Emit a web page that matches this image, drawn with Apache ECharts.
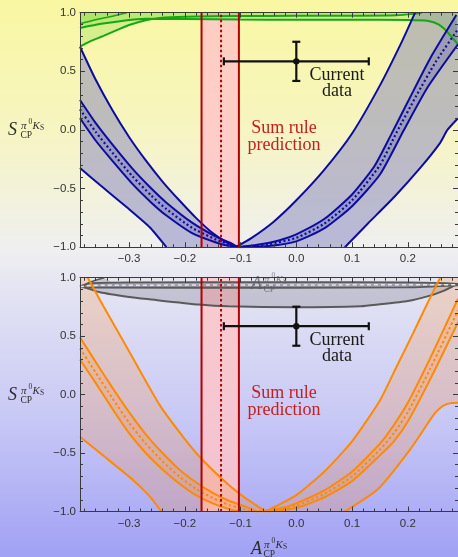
<!DOCTYPE html>
<html>
<head>
<meta charset="utf-8">
<script src="https://cdn.jsdelivr.net/npm/echarts@6/dist/echarts.min.js"></script>
<style>
  html, body { margin: 0; padding: 0; }
  #chart {
    width: 458px; height: 557px;
    background: linear-gradient(to bottom, #f9f7a2 0%, #f7f5bf 22%, #efeff1 45%, #e4e4f3 52%, #c8c8f6 75%, #a1a1f5 100%);
  }
</style>
</head>
<body>
<div id="chart"></div>
<script>
// ---- axes ----
const xMin = -0.388, xMax = 0.29;
const yMin = -1, yMax = 1;
const xMajorTicks = [-0.3, -0.2, -0.1, 0.0, 0.1, 0.2];
const xMinorTicks = [-0.38, -0.36, -0.34, -0.32, -0.28, -0.26, -0.24, -0.22, -0.18, -0.16, -0.14, -0.12,
                     -0.08, -0.06, -0.04, -0.02, 0.02, 0.04, 0.06, 0.08, 0.12, 0.14, 0.16, 0.18, 0.22, 0.24, 0.26, 0.28];

// ---- sum rule prediction for A_CP ----
const sumRuleLow = -0.170, sumRuleHigh = -0.103, sumRuleCentral = -0.135;

// ---- measured point ----
const currentA = 0.0, currentAErr = 0.13;
const currentS = 0.585, currentSErr = 0.167;

// ---- upper panel: blue sum-rule bands ----
const blueOuterUpperLeft = [[-0.388, 0.71], [-0.36, 0.43], [-0.33, 0.17], [-0.30, -0.06], [-0.27, -0.26], [-0.24, -0.44],
  [-0.21, -0.60], [-0.18, -0.75], [-0.15, -0.88], [-0.125, -0.96], [-0.109, -1.0]];
const blueOuterUpperRight = [[-0.109, -1.0], [-0.08, -0.92], [-0.04, -0.78], [0.0, -0.60], [0.05, -0.34], [0.10, -0.03],
  [0.15, 0.38], [0.19, 0.76], [0.213, 1.0]];
const blueOuterLowerLeft = [[-0.388, -0.325], [-0.352, -0.47], [-0.304, -0.66], [-0.263, -0.83], [-0.233, -1.0]];
const blueOuterLowerRight = [[0.087, -1.0], [0.128, -0.80], [0.176, -0.57], [0.223, -0.32], [0.258, -0.11], [0.271, 0.0], [0.29, 0.10]];

const blueInnerUpperLeft = [[-0.388, 0.256], [-0.36, 0.06], [-0.334, -0.10], [-0.294, -0.33], [-0.26, -0.50], [-0.233, -0.62],
  [-0.187, -0.79], [-0.144, -0.91], [-0.12, -0.96], [-0.105, -1.0]];
const blueInnerLowerLeft = [[-0.388, 0.10], [-0.36, -0.09], [-0.334, -0.24], [-0.294, -0.46], [-0.26, -0.62], [-0.233, -0.73],
  [-0.187, -0.88], [-0.144, -0.96], [-0.12, -0.99], [-0.10, -1.0]];
const blueInnerCentreLeft = [[-0.388, 0.175], [-0.36, -0.015], [-0.334, -0.17], [-0.294, -0.395], [-0.26, -0.56], [-0.233, -0.675],
  [-0.187, -0.835], [-0.144, -0.935], [-0.12, -0.975], [-0.103, -1.0]];
const blueInnerUpperRight = [[-0.105, -1.0], [-0.07, -0.98], [-0.03, -0.94], [0.0, -0.89], [0.05, -0.76], [0.10, -0.55],
  [0.14, -0.31], [0.17, -0.04], [0.20, 0.24], [0.24, 0.61], [0.287, 0.98]];
const blueInnerLowerRight = [[-0.10, -1.0], [-0.05, -0.99], [0.0, -0.95], [0.05, -0.84], [0.10, -0.65], [0.15, -0.38],
  [0.193, 0.0], [0.235, 0.36], [0.29, 0.73]];
const blueInnerCentreRight = [[-0.103, -1.0], [-0.05, -0.975], [0.0, -0.92], [0.05, -0.80], [0.10, -0.60], [0.15, -0.30],
  [0.18, -0.02], [0.215, 0.29], [0.25, 0.58], [0.29, 0.86]];

// ---- upper panel: green curves near S = 1 ----
const greenCurveA = [[-0.388, 0.71], [-0.37, 0.755], [-0.347, 0.80], [-0.32, 0.855], [-0.30, 0.895], [-0.27, 0.935],
  [-0.245, 0.955], [-0.20, 0.966], [-0.10, 0.972], [0.0, 0.973], [0.10, 0.974], [0.18, 0.978], [0.21, 0.99], [0.225, 1.0]];
const greenCurveB = [[-0.388, 0.87], [-0.35, 0.905], [-0.31, 0.932], [-0.27, 0.948], [-0.20, 0.946], [-0.10, 0.942], [0.0, 0.94],
  [0.10, 0.94], [0.20, 0.938], [0.237, 0.93], [0.255, 0.90], [0.27, 0.84], [0.29, 0.73]];
const greenCurveC = [[-0.388, 0.905], [-0.36, 0.94], [-0.33, 0.97], [-0.304, 1.0]];

// ---- lower panel: orange sum-rule bands ----
const orangeOuterUpperLeft = [[-0.374, 1.0], [-0.35, 0.79], [-0.30, 0.37], [-0.245, -0.09], [-0.20, -0.38], [-0.168, -0.56],
  [-0.122, -0.77], [-0.09, -0.89], [-0.055, -1.0]];
const orangeOuterUpperRight = [[-0.055, -1.0], [0.0, -0.86], [0.05, -0.66], [0.10, -0.40], [0.15, -0.05], [0.18, 0.24],
  [0.21, 0.53], [0.235, 0.78], [0.258, 1.0]];
const orangeOuterLowerLeft = [[-0.388, -0.36], [-0.352, -0.50], [-0.293, -0.73], [-0.263, -0.87], [-0.242, -1.0]];
const orangeOuterLowerRight = [[0.087, -1.0], [0.146, -0.81], [0.204, -0.47], [0.247, -0.17], [0.262, -0.10], [0.275, -0.075], [0.29, -0.07]];

const orangeInnerUpperLeft = [[-0.388, 0.49], [-0.36, 0.28], [-0.33, 0.06], [-0.30, -0.15], [-0.27, -0.34], [-0.24, -0.50],
  [-0.21, -0.64], [-0.18, -0.75], [-0.15, -0.84], [-0.12, -0.91], [-0.09, -0.96], [-0.07, -1.0]];
const orangeInnerLowerLeft = [[-0.388, 0.30], [-0.36, 0.10], [-0.33, -0.12], [-0.30, -0.33], [-0.27, -0.50], [-0.24, -0.64],
  [-0.21, -0.76], [-0.18, -0.86], [-0.15, -0.93], [-0.12, -0.98], [-0.10, -1.0]];
const orangeInnerCentreLeft = [[-0.388, 0.395], [-0.36, 0.19], [-0.33, -0.03], [-0.30, -0.24], [-0.27, -0.42], [-0.24, -0.57],
  [-0.21, -0.70], [-0.18, -0.805], [-0.15, -0.885], [-0.12, -0.945], [-0.095, -0.98], [-0.08, -1.0]];
const orangeInnerUpperRight = [[-0.07, -1.0], [-0.03, -0.975], [0.0, -0.93], [0.05, -0.82], [0.10, -0.66], [0.15, -0.42],
  [0.175, -0.26], [0.20, -0.07], [0.24, 0.31], [0.29, 0.82]];
const orangeInnerLowerRight = [[-0.05, -1.0], [0.0, -0.97], [0.05, -0.88], [0.10, -0.74], [0.15, -0.52], [0.175, -0.40],
  [0.20, -0.23], [0.24, 0.13], [0.29, 0.62]];
const orangeInnerCentreRight = [[-0.06, -1.0], [0.0, -0.95], [0.05, -0.85], [0.10, -0.70], [0.15, -0.47], [0.175, -0.33],
  [0.20, -0.15], [0.24, 0.22], [0.29, 0.72]];

// ---- lower panel: grey curves near S = 1 ----
const greyLower = [[-0.388, 0.93], [-0.352, 0.875], [-0.30, 0.835], [-0.263, 0.815], [-0.174, 0.77], [-0.122, 0.755],
  [0.0, 0.747], [0.116, 0.755], [0.147, 0.77], [0.20, 0.80], [0.235, 0.84], [0.265, 0.89], [0.29, 0.95]];
const greyUpper = [[-0.388, 0.925], [-0.37, 0.952], [-0.30, 0.96], [0.0, 0.962], [0.20, 0.96], [0.25, 0.956], [0.29, 0.948]];
const greyMid = [[-0.388, 0.92], [-0.37, 0.915], [0.0, 0.914], [0.20, 0.917], [0.29, 0.935]];
const greyDashed = [[-0.388, 0.922], [-0.37, 0.934], [0.0, 0.938], [0.29, 0.94]];
const greyWedge = [[-0.388, 0.925], [-0.37, 0.962], [-0.345, 1.0]];

// ---------------------------------------------------------------
const AXIS_COLOR = '#3a3a3a';
const SANS = '"Liberation Sans", Arial, sans-serif';
const SERIF = '"Liberation Serif", "DejaVu Serif", serif';
const grids = [
  { left: 80, top: 12.7, width: 380, height: 234.5 },
  { left: 80, top: 277.7, width: 380, height: 233.8 }
];

function fmt(v) {
  const s = Math.abs(v).toFixed(1);
  return (v < -1e-9 ? '\u2212' : '') + s;
}

function xAxesFor(g) {
  const common = { type: 'value', gridIndex: g, min: xMin, max: xMax, splitLine: { show: false }, z: 10 };
  const line = { show: true, onZero: false, lineStyle: { color: AXIS_COLOR, width: 1 } };
  const noLine = { show: false, onZero: false };
  const tick = (vals, len) => ({ show: true, inside: true, length: len, customValues: vals, lineStyle: { color: AXIS_COLOR, width: 1 } });
  return [
    Object.assign({}, common, { position: 'bottom', axisLine: line, axisTick: tick(xMajorTicks, 5),
      axisLabel: { show: true, customValues: xMajorTicks, formatter: fmt, margin: 6, color: '#333', fontSize: 11.5, fontFamily: SANS } }),
    Object.assign({}, common, { position: 'bottom', axisLine: noLine, axisTick: tick(xMinorTicks, 3), axisLabel: { show: false } }),
    Object.assign({}, common, { position: 'top', axisLine: line, axisTick: tick(xMajorTicks, 5), axisLabel: { show: false } }),
    Object.assign({}, common, { position: 'top', axisLine: noLine, axisTick: tick(xMinorTicks, 3), axisLabel: { show: false } })
  ];
}

function yAxesFor(g) {
  const common = {
    type: 'value', gridIndex: g, min: yMin, max: yMax, interval: 0.5, z: 10,
    axisLine: { show: true, onZero: false, lineStyle: { color: AXIS_COLOR, width: 1 } },
    axisTick: { show: true, inside: true, length: 5, lineStyle: { color: AXIS_COLOR, width: 1 } },
    minorTick: { show: true, splitNumber: 5, length: 3, lineStyle: { color: AXIS_COLOR, width: 1 } },
    splitLine: { show: false }, minorSplitLine: { show: false }
  };
  return [
    Object.assign({}, common, { position: 'left',
      axisLabel: { show: true, formatter: fmt, margin: 4, color: '#333', fontSize: 11.5, fontFamily: SANS } }),
    Object.assign({}, common, { position: 'right', axisLabel: { show: false } })
  ];
}

function polygon(g, pts, fill, z) {
  return {
    type: 'custom', coordinateSystem: 'cartesian2d', xAxisIndex: 4 * g, yAxisIndex: 2 * g,
    silent: true, z: z, data: [[pts[0][0], pts[0][1]]],
    renderItem: (params, api) => ({
      type: 'polygon',
      shape: { points: pts.map(p => api.coord(p)) },
      style: { fill: fill }
    })
  };
}

function curve(g, pts, color, width, z, dash) {
  return {
    type: 'line', xAxisIndex: 4 * g, yAxisIndex: 2 * g, data: pts, showSymbol: false, symbol: 'none',
    smooth: 0.2, silent: true, z: z,
    lineStyle: { color: color, width: width, type: dash || 'solid', cap: 'butt' }
  };
}

function sumRuleSeries(g) {
  return [
    polygon(g, [[sumRuleLow, yMin], [sumRuleHigh, yMin], [sumRuleHigh, yMax], [sumRuleLow, yMax]], 'rgba(255,196,200,0.82)', 1),
    { type: 'line', xAxisIndex: 4 * g, yAxisIndex: 2 * g, data: [[sumRuleLow, yMin], [sumRuleLow, yMax]], showSymbol: false,
      silent: true, z: 6, lineStyle: { color: '#b00000', width: 2 } },
    { type: 'line', xAxisIndex: 4 * g, yAxisIndex: 2 * g, data: [[sumRuleHigh, yMin], [sumRuleHigh, yMax]], showSymbol: false,
      silent: true, z: 6, lineStyle: { color: '#b00000', width: 2 } },
    { type: 'line', xAxisIndex: 4 * g, yAxisIndex: 2 * g, data: [[sumRuleCentral, yMin], [sumRuleCentral, yMax]], showSymbol: false,
      silent: true, z: 6, lineStyle: { color: '#b00000', width: 2, type: [2.5, 2.5] } }
  ];
}

function errorBarSeries(g) {
  return {
    type: 'custom', coordinateSystem: 'cartesian2d', xAxisIndex: 4 * g, yAxisIndex: 2 * g, silent: true, z: 8,
    data: [[currentA, currentS, currentAErr, currentSErr]],
    renderItem: (params, api) => {
      const a = api.value(0), s = api.value(1), ea = api.value(2), es = api.value(3);
      const c = api.coord([a, s]);
      const l = api.coord([a - ea, s]), r = api.coord([a + ea, s]);
      const t = api.coord([a, s + es]), b = api.coord([a, s - es]);
      const st = { stroke: '#111', lineWidth: 2.2 };
      const cap = 4;
      return {
        type: 'group', children: [
          { type: 'line', shape: { x1: l[0], y1: l[1], x2: r[0], y2: r[1] }, style: st },
          { type: 'line', shape: { x1: l[0], y1: l[1] - cap, x2: l[0], y2: l[1] + cap }, style: st },
          { type: 'line', shape: { x1: r[0], y1: r[1] - cap, x2: r[0], y2: r[1] + cap }, style: st },
          { type: 'line', shape: { x1: t[0], y1: t[1], x2: b[0], y2: b[1] }, style: st },
          { type: 'line', shape: { x1: t[0] - cap, y1: t[1], x2: t[0] + cap, y2: t[1] }, style: st },
          { type: 'line', shape: { x1: b[0] - cap, y1: b[1], x2: b[0] + cap, y2: b[1] }, style: st },
          { type: 'circle', shape: { cx: c[0], cy: c[1], r: 3.2 }, style: { fill: '#111' } }
        ]
      };
    }
  };
}

const rev = a => a.slice().reverse();

// upper panel series
const BLUE = '#0c0ca0';
const blueOuterPoly = [...blueOuterUpperLeft, ...blueOuterUpperRight.slice(1), [xMax, yMax],
  ...rev(blueOuterLowerRight), ...rev(blueOuterLowerLeft)];
const blueInnerPoly = [...blueInnerUpperLeft, ...blueInnerUpperRight.slice(1), ...rev(blueInnerLowerRight), ...rev(blueInnerLowerLeft)];
const GREEN = '#16a616';

const topSeries = [
  ...sumRuleSeries(0),
  polygon(0, [...greenCurveA, [xMin, yMax]], 'rgba(110,215,50,0.25)', 2),
  polygon(0, [...greenCurveB, [xMax, yMax], [xMin, yMax]], 'rgba(110,215,50,0.25)', 2),
  polygon(0, [...greenCurveC, [xMin, yMax]], 'rgba(110,215,50,0.2)', 2),
  polygon(0, blueOuterPoly, 'rgba(110,110,185,0.42)', 3),
  polygon(0, blueInnerPoly, 'rgba(60,60,170,0.25)', 3),
  curve(0, greenCurveA, GREEN, 2, 4),
  curve(0, greenCurveB, GREEN, 2, 4),
  curve(0, greenCurveC, GREEN, 1.5, 4),
  curve(0, blueOuterUpperLeft, BLUE, 2, 5),
  curve(0, blueOuterUpperRight, BLUE, 2, 5),
  curve(0, blueOuterLowerLeft, BLUE, 2, 5),
  curve(0, blueOuterLowerRight, BLUE, 2, 5),
  curve(0, blueInnerUpperLeft, BLUE, 2, 5),
  curve(0, blueInnerLowerLeft, BLUE, 2, 5),
  curve(0, blueInnerUpperRight, BLUE, 2, 5),
  curve(0, blueInnerLowerRight, BLUE, 2, 5),
  curve(0, blueInnerCentreLeft, BLUE, 2.2, 5, [2, 2.5]),
  curve(0, blueInnerCentreRight, BLUE, 2.2, 5, [2, 2.5]),
  errorBarSeries(0)
];

// lower panel series
const ORANGE = '#ff8a00';
const GREY = '#5a5a5a';
const orangeOuterPoly = [[xMin, yMax], ...orangeOuterUpperLeft, ...orangeOuterUpperRight.slice(1), [xMax, yMax],
  ...rev(orangeOuterLowerRight), ...rev(orangeOuterLowerLeft)];
const orangeInnerPoly = [...orangeInnerUpperLeft, ...orangeInnerUpperRight.slice(1), ...rev(orangeInnerLowerRight), ...rev(orangeInnerLowerLeft)];

const bottomSeries = [
  ...sumRuleSeries(1),
  polygon(1, [...greyLower, ...rev(greyUpper)], 'rgba(70,70,85,0.2)', 2),
  polygon(1, [...greyUpper, ...rev(greyMid)], 'rgba(70,70,85,0.3)', 2),
  polygon(1, [...greyWedge, [-0.33, 0.96]], 'rgba(70,70,85,0.2)', 2),
  polygon(1, orangeOuterPoly, 'rgba(255,140,40,0.22)', 3),
  polygon(1, orangeInnerPoly, 'rgba(255,140,40,0.2)', 3),
  curve(1, greyLower, GREY, 2, 4),
  curve(1, greyUpper, GREY, 1.8, 4),
  curve(1, greyMid, GREY, 1.8, 4),
  curve(1, greyWedge, GREY, 1.6, 4),
  curve(1, greyDashed, '#e6e6ea', 1.5, 4, [4, 3]),
  curve(1, orangeOuterUpperLeft, ORANGE, 2, 5),
  curve(1, orangeOuterUpperRight, ORANGE, 2, 5),
  curve(1, orangeOuterLowerLeft, ORANGE, 2, 5),
  curve(1, orangeOuterLowerRight, ORANGE, 2, 5),
  curve(1, orangeInnerUpperLeft, ORANGE, 2, 5),
  curve(1, orangeInnerLowerLeft, ORANGE, 2, 5),
  curve(1, orangeInnerUpperRight, ORANGE, 2, 5),
  curve(1, orangeInnerLowerRight, ORANGE, 2, 5),
  curve(1, orangeInnerCentreLeft, ORANGE, 2, 5, [2.5, 2.5]),
  curve(1, orangeInnerCentreRight, ORANGE, 2, 5, [2.5, 2.5]),
  errorBarSeries(1)
];

// ---- axis titles built from script-style pieces ----
function scriptLabel(letter, x, y, opacity, z) {
  // (x, y): left edge / vertical centre of the main italic letter
  const col = '#2e2e2e';
  const t = (text, dx, dy, font) => ({
    type: 'text', x: x + dx, y: y + dy,
    style: { text: text, font: font, fill: col, align: 'left', verticalAlign: 'middle', opacity: opacity }
  });
  return {
    type: 'group', z: z, silent: true, children: [
      t(letter, 0, 0, 'italic 18px ' + SERIF),
      t('\u03c0', 13, -4, 'italic 11px ' + SERIF),
      t('0', 20.5, -7.5, '7.5px ' + SERIF),
      t('K', 24.5, -4, 'italic 11px ' + SERIF),
      t('S', 32, -1.5, '7.5px ' + SERIF),
      t('CP', 12.5, 5.5, '9.5px ' + SERIF)
    ]
  };
}

function panelText(dy) {
  return [
    { type: 'text', x: 284, y: 136.5 + dy, z: 20, silent: true,
      style: { text: 'Sum rule\nprediction', font: '18px ' + SERIF, fill: '#c42020', align: 'center', verticalAlign: 'middle', lineHeight: 17 } },
    { type: 'text', x: 337, y: 83.5 + dy, z: 20, silent: true,
      style: { text: 'Current\ndata', font: '18px ' + SERIF, fill: '#1a1a1a', align: 'center', verticalAlign: 'middle', lineHeight: 15.5 } }
  ];
}

const option = {
  animation: false,
  backgroundColor: 'transparent',
  grid: grids,
  xAxis: [...xAxesFor(0), ...xAxesFor(1)],
  yAxis: [...yAxesFor(0), ...yAxesFor(1)],
  series: [...topSeries, ...bottomSeries],
  graphic: [
    // upper-panel abscissa title, showing through behind the lower frame
    scriptLabel('A', 251, 284, 0.55, -1),
    scriptLabel('S', 8, 130, 1, 20),
    scriptLabel('S', 8, 395, 1, 20),
    scriptLabel('A', 251, 549, 1, 20),
    ...panelText(0),
    ...panelText(265)
  ]
};

const chart = echarts.init(document.getElementById('chart'));
chart.setOption(option);
</script>
</body>
</html>
